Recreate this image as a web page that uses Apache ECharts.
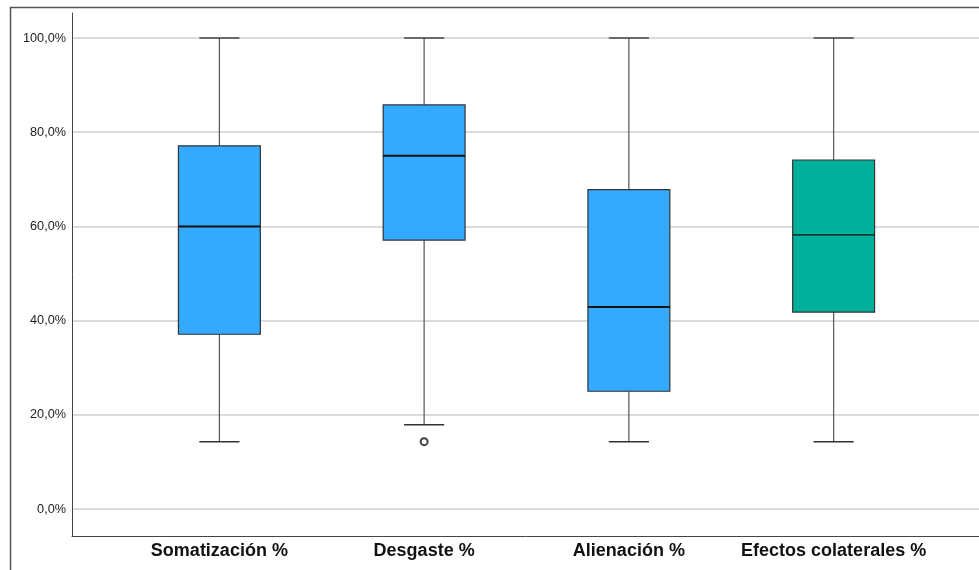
<!DOCTYPE html>
<html><head><meta charset="utf-8">
<script src="https://cdn.jsdelivr.net/npm/echarts@6/dist/echarts.min.js"></script>
<style>html,body{margin:0;padding:0;background:#fff}#c{width:979px;height:570px}</style>
</head><body><div id="c"></div>
<script>
const categories = ['Somatización %', 'Desgaste %', 'Alienación %', 'Efectos colaterales %'];
const lowWhisker = [14.3, 17.9, 14.3, 14.3];
const q1 = [37.1, 57.1, 25.0, 41.8];
const median = [60.0, 75.0, 42.9, 58.2];
const q3 = [77.1, 85.8, 67.8, 74.1];
const highWhisker = [100, 100, 100, 100];
const outliers = [[1, 14.3]];
const yTicks = [0, 20, 40, 60, 80, 100];

const fills = ['#33aaff', '#33aaff', '#33aaff', '#00b09c'];
const medianWidths = [2, 2, 2, 1.2];

const boxData = categories.map((c, i) => [i, lowWhisker[i], q1[i], median[i], q3[i], highWhisker[i]]);

const chart = echarts.init(document.getElementById('c'), null, {renderer: 'canvas'});
const fmt = v => v.toFixed(1).replace('.', ',') + '%';

chart.setOption({
  animation: false,
  backgroundColor: '#fff',
  graphic: [
    {type: 'line', shape: {x1: 10, y1: 7.5, x2: 979, y2: 7.5}, style: {stroke: '#555', lineWidth: 1.5}},
    {type: 'line', shape: {x1: 10.5, y1: 7, x2: 10.5, y2: 570}, style: {stroke: '#555', lineWidth: 1.5}}
  ],
  grid: [
    {left: 72, right: 0, top: 38, bottom: 61},
    {left: 117, right: 43, top: 38, bottom: 61},
    {left: 72, right: 0, top: 13, bottom: 34}
  ],
  xAxis: [
    {gridIndex: 0, type: 'value', min: 0, max: 1, show: false},
    {gridIndex: 1, type: 'category', data: categories,
      axisLine: {show: false}, axisTick: {show: false}, splitLine: {show: false},
      axisLabel: {margin: 33, fontFamily: 'Liberation Sans, Arial', fontSize: 18, fontWeight: 'bold', color: '#111', interval: 0}},
    {gridIndex: 2, type: 'value', min: 0, max: 1,
      axisLine: {show: true, lineStyle: {color: '#444', width: 1}}, axisTick: {show: false}, axisLabel: {show: false}, splitLine: {show: false}}
  ],
  yAxis: [
    {gridIndex: 0, type: 'value', min: yTicks[0], max: yTicks[yTicks.length - 1], interval: 20,
      axisLine: {show: false}, axisTick: {show: false},
      axisLabel: {margin: 6, fontFamily: 'Liberation Sans, Arial', fontSize: 12.7, color: '#222', formatter: fmt},
      splitLine: {show: true, lineStyle: {color: '#cfcfcf', width: 1.5}}},
    {gridIndex: 1, type: 'value', min: 0, max: 100, show: false},
    {gridIndex: 2, type: 'value', min: 0, max: 1,
      axisLine: {show: true, lineStyle: {color: '#444', width: 1}}, axisTick: {show: false}, axisLabel: {show: false}, splitLine: {show: false}}
  ],
  series: [
    {
      type: 'custom', xAxisIndex: 1, yAxisIndex: 1, data: boxData,
      encode: {x: 0, y: [1, 2, 3, 4, 5]},
      renderItem: function (params, api) {
        const idx = api.value(0);
        const band = api.size([1, 0])[0];
        const bw = band * 0.4, cw = band * 0.196;
        const pLow = api.coord([idx, api.value(1)]);
        const pQ1 = api.coord([idx, api.value(2)]);
        const pMed = api.coord([idx, api.value(3)]);
        const pQ3 = api.coord([idx, api.value(4)]);
        const pHigh = api.coord([idx, api.value(5)]);
        const x = pMed[0];
        const wl = {stroke: '#555', lineWidth: 1.2};
        return {
          type: 'group',
          children: [
            {type: 'line', shape: {x1: x, y1: pHigh[1], x2: x, y2: pQ3[1]}, style: wl},
            {type: 'line', shape: {x1: x, y1: pQ1[1], x2: x, y2: pLow[1]}, style: wl},
            {type: 'line', shape: {x1: x - cw / 2, y1: pHigh[1], x2: x + cw / 2, y2: pHigh[1]}, style: {stroke: '#444', lineWidth: 1.5}},
            {type: 'line', shape: {x1: x - cw / 2, y1: pLow[1], x2: x + cw / 2, y2: pLow[1]}, style: {stroke: '#333', lineWidth: 1.5}},
            {type: 'rect', shape: {x: x - bw / 2, y: pQ3[1], width: bw, height: pQ1[1] - pQ3[1]},
              style: {fill: fills[idx], stroke: '#333', lineWidth: 1.2}},
            {type: 'line', shape: {x1: x - bw / 2, y1: pMed[1], x2: x + bw / 2, y2: pMed[1]},
              style: {stroke: '#111', lineWidth: medianWidths[idx]}}
          ]
        };
      }
    },
    {
      type: 'scatter', xAxisIndex: 1, yAxisIndex: 1, data: outliers,
      symbol: 'circle', symbolSize: 7,
      itemStyle: {color: '#fff', borderColor: '#111', borderWidth: 2}
    }
  ]
});
</script></body></html>
